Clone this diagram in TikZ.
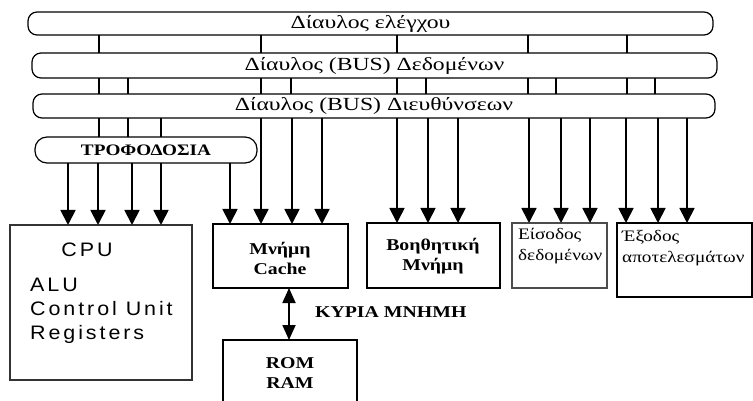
\documentclass[tikz,border=0pt]{standalone}
\usepackage{fontspec}
\setmainfont{Liberation Serif}
\newfontfamily\grw[FakeStretch=1.2]{Liberation Serif}
\newfontfamily\busfont[FakeStretch=1.28]{Liberation Serif}
\newfontfamily\sfw[FakeStretch=1.1,LetterSpace=15]{Liberation Sans}
\usetikzlibrary{arrows.meta}
\begin{document}
\begin{tikzpicture}[x=1pt,y=-1pt,
  bus/.style={draw, line width=1.2pt, rounded corners=9pt, inner sep=0pt, outer sep=0pt,
     font=\busfont\fontsize{18.5}{20}\selectfont},
  boxx/.style={draw, line width=1.1pt, inner sep=0pt, outer sep=0pt},
  btxt/.style={inner sep=0pt, align=center, font=\grw\bfseries\fontsize{16.5}{20}\selectfont},
  rtxt/.style={inner sep=0pt, align=left, anchor=west, font=\grw\fontsize{16}{21}\selectfont},
  stxt/.style={inner sep=0pt, font=\sfw\fontsize{19.5}{24}\selectfont},
  link/.style={line width=1.5pt},
  arr/.style={line width=1.8pt, -{Triangle[width=15pt,length=15pt]}},
  darr/.style={line width=1.8pt, {Triangle[width=13pt,length=15pt]}-{Triangle[width=13pt,length=15pt]}}]
\clip (0,0) rectangle (753,401);
\fill[white] (0,0) rectangle (753,401);
% buses
\node[bus, minimum width=685pt, minimum height=23pt] (bus1) at (370.5,23.5) {Δίαυλος ελέγχου};
\node[bus, minimum width=685pt, minimum height=25pt] (bus2) at (374.5,65.5) {Δίαυλος (BUS) Δεδομένων};
\node[bus, minimum width=682pt, minimum height=24pt] (bus3) at (374,106) {Δίαυλος (BUS) Διευθύνσεων};
\node[bus, rounded corners=12pt, minimum width=222pt, minimum height=26pt,
      font=\grw\bfseries\fontsize{16}{20}\selectfont] (trof) at (146,150) {ΤΡΟΦΟΔΟΣΙΑ};
% boxes
\node[boxx, draw=black!80, minimum width=182pt, minimum height=155pt] (cpu) at (101,302.5) {};
\node[boxx, minimum width=135pt, minimum height=64pt] (cache) at (280.5,256) {};
\node[boxx, minimum width=133pt, minimum height=65pt] (aux) at (433.5,255.5) {};
\node[boxx, draw=black!70, minimum width=95pt, minimum height=65pt] (inp) at (559.5,255.5) {};
\node[boxx, minimum width=135pt, minimum height=74pt] (outp) at (684.5,260) {};
\node[boxx, minimum width=134pt, minimum height=80pt] (rom) at (290,380) {};
% texts
\node[stxt] (cputxt) at (87,250) {CPU};
\node[stxt, anchor=west, align=left] (cpuparts) at (30,311) {ALU\\Control Unit\\Registers};
\node[btxt] (cachetxt) at (280,258) {Μνήμη\\Cache};
\node[btxt] (auxtxt) at (433,256) {Βοηθητική\\Μνήμη};
\node[rtxt] (inptxt) at (518,246) {Είσοδος\\δεδομένων};
\node[rtxt] (outptxt) at (622,248) {Έξοδος\\αποτελεσμάτων};
\node[btxt] (romtxt) at (290,373) {ROM\\RAM};
\node[btxt, anchor=west] (mainmem) at (315,312) {ΚΥΡΙΑ ΜΝΗΜΗ};
% bus links
\foreach \x in {99,261,397,528,627}
  \draw[link] (bus1.south -| \x,0) -- (bus2.north -| \x,0);
\foreach \x in {99,128,261,291,397,426,528,556,627,655}
  \draw[link] (bus2.south -| \x,0) -- (bus3.north -| \x,0);
\foreach \x in {99,128,161}
  \draw[link] (bus3.south -| \x,0) -- (trof.north -| \x,0);
% arrows
\foreach \x in {68,98,132,161}
  \draw[arr] (trof.south -| \x,0) -- (cpu.north -| \x,0);
\draw[arr] (trof.south -| 230,0) -- (cache.north -| 230,0);
\foreach \x in {261,292,322}
  \draw[arr] (bus3.south -| \x,0) -- (cache.north -| \x,0);
\foreach \x in {397,428,458}
  \draw[arr] (bus3.south -| \x,0) -- (aux.north -| \x,0);
\foreach \x in {529,561,590}
  \draw[arr] (bus3.south -| \x,0) -- (inp.north -| \x,0);
\foreach \x in {626,658,687}
  \draw[arr] (bus3.south -| \x,0) -- (outp.north -| \x,0);
\draw[darr] (cache.south -| 289,0) -- (rom.north -| 289,0);
\end{tikzpicture}
\end{document}
